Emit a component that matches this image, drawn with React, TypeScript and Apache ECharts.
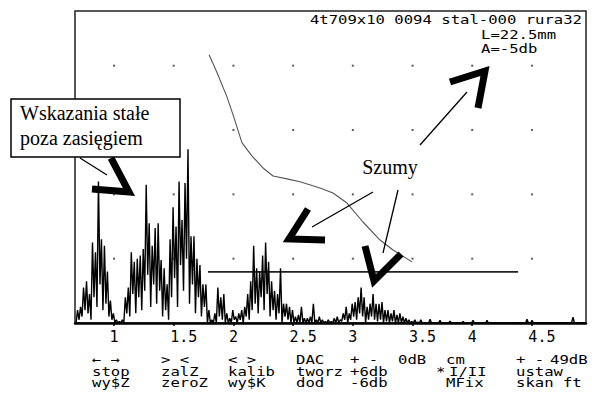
import React, { useEffect, useRef } from 'react';
import * as echarts from 'echarts';

// ---- data ----
const xTicks = [1, 1.5, 2, 2.5, 3, 3.5, 4, 4.5];
const dotLevels = [20, 40, 60, 80];

const traceStart = 0.682;
const traceStep = 0.025;
const peaks = [
  4, 5, 11, 13, 9, 25, 22, 44, 26, 24, 16, 7, 3, 1, 0.5, 1, 8, 11, 22, 19,
  20, 21, 23, 43, 31, 24, 29.5, 31, 19.6, 17, 12, 26, 36, 30, 44, 32, 43.5, 54, 27, 27,
  20, 18, 12, 12, 4, 1, 3, 11, 8, 9, 3, 1.5, 4, 2, 3, 4, 5, 9, 13, 24,
  17, 16, 21, 25, 19, 13, 10, 9, 17, 6, 6, 5, 4, 2, 2.5, 5, 1.5, 1.5, 2, 6,
  1, 2, 1, 0.5, 1, 0.5, 1.5, 2, 1, 3, 5, 3, 6, 6.5, 8, 11, 8, 5, 6, 9,
  6, 6, 6.5, 4, 4, 3, 4, 2.5, 3, 2, 1.5, 1, 0.5, 1, 0.3, 1,
];
const troughs = [
  0, 1, 2, 4, 3, 1, 8, 5, 12, 4, 6, 2, 1, 0, 0, 0, 0, 3, 2, 9,
  3, 8, 4, 10, 15, 5, 12, 6, 10, 2, 4, 1, 8, 14, 5, 18, 10, 20, 6, 12,
  3, 8, 2, 5, 0, 0, 0, 0, 2, 1, 0, 0, 0, 1, 0, 1, 0, 2, 1, 4,
  6, 3, 8, 4, 9, 2, 4, 1, 3, 0, 2, 1, 0, 0, 0, 0, 0, 0, 0, 0,
  0, 0, 0, 0, 0, 0, 0, 0, 0, 0.5, 1, 0, 1, 2, 1, 3, 2, 0, 1, 2,
  1, 0.5, 1, 0, 0.5, 0, 0.5, 0, 0, 0, 0, 0, 0, 0, 0, 0,
];
const tailX = [3.647, 3.73, 3.814, 3.923, 4.007, 4.124, 4.459, 4.501, 4.844];
const tailAmp = [1.2, 0.8, 0.6, 0.5, 0.8, 0.8, 1.2, 0.8, 1.8];

const dacX = [1.796, 1.863, 1.946, 1.997, 2.072, 2.156, 2.248, 2.332, 2.449, 2.558, 2.725, 2.834, 2.951, 3.085, 3.228, 3.337, 3.496];
const dacY = [83.4, 77.8, 70.3, 64.7, 56.0, 51.9, 48.2, 45.7, 44.8, 43.9, 42.0, 40.4, 37.3, 31.4, 25.8, 22.7, 19.0];

const gateX = [1.787, 4.384];
const gateLevel = 15.9;

const headerText = '4t709x10 0094 stal-000 rura32';
const infoLines = ['L=22.5mm', 'A=-5db'];
const menuRow1 = ['← →', '> <', '< >', 'DAC', '+ -', '0dB', 'cm', '+ -', '49dB'];
const menuRow2 = ['stop', 'zalZ', 'kalib', 'tworz', '+6db', '*', 'I/II', 'ustaw'];
const menuRow3 = ['wy$Z', 'zeroZ', 'wy$K', 'dod', '-6db', 'MFix', 'skan ft'];
const noteBox = ['Wskazania stałe', 'poza zasięgiem'];
const noteNoise = 'Szumy';

const X_MIN = 0.673;
const X_MAX = 4.953;

function buildTrace() {
  const pts: number[][] = [];
  for (let i = 0; i < peaks.length; i++) {
    const x = traceStart + i * traceStep;
    pts.push([x, troughs[i]]);
    pts.push([x + traceStep / 2, peaks[i]]);
  }
  pts.push([traceStart + peaks.length * traceStep, 0]);
  for (let i = 0; i < tailX.length; i++) {
    pts.push([tailX[i] - 0.012, 0]);
    pts.push([tailX[i], tailAmp[i]]);
    pts.push([tailX[i] + 0.012, 0]);
  }
  pts.push([X_MAX, 0]);
  return pts;
}

const MONO = '"DejaVu Sans Mono", monospace';
const SERIF = '"Liberation Serif", "Times New Roman", serif';

function monoText(text: string, x: number, y: number, align: string = 'left') {
  return {
    type: 'text',
    x,
    y,
    scaleX: 1.2,
    z: 50,
    style: {
      text,
      fontFamily: MONO,
      fontSize: 13,
      fill: '#000',
      textAlign: align,
      textVerticalAlign: 'middle',
    },
  };
}

function chevron(points: number[][]) {
  return {
    type: 'polyline',
    z: 60,
    shape: { points },
    style: { stroke: '#000', lineWidth: 7, fill: null, lineJoin: 'miter', lineCap: 'butt' },
  };
}

function leader(x1: number, y1: number, x2: number, y2: number) {
  return {
    type: 'line',
    z: 60,
    shape: { x1, y1, x2, y2 },
    style: { stroke: '#000', lineWidth: 1.3 },
  };
}

export default function App() {
  const ref = useRef<HTMLDivElement>(null);

  useEffect(() => {
    if (!ref.current) return;
    const chart = echarts.init(ref.current, null, { renderer: 'svg' });

    const dots: number[][] = [];
    xTicks.forEach((x) => dotLevels.forEach((y) => dots.push([x, y])));

    const row1X = [92, 161, 228, 296, 350, 398, 446, 516, 550];
    const row2X = [92, 161, 228, 296, 350, 436, 449, 516];
    const row3X = [92, 161, 228, 296, 350, 446, 516];

    const graphic: any[] = [
      monoText(headerText, 582, 19, 'right'),
      monoText(infoLines[0], 481, 34),
      monoText(infoLines[1], 481, 48),
      ...menuRow1.map((t, i) => monoText(t, row1X[i], 359)),
      ...menuRow2.map((t, i) => monoText(t, row2X[i], 371)),
      ...menuRow3.map((t, i) => monoText(t, row3X[i], 382)),
      {
        type: 'rect',
        z: 70,
        shape: { x: 11, y: 99, width: 169, height: 58 },
        style: { fill: '#fff', stroke: '#000', lineWidth: 1.5 },
      },
      {
        type: 'text',
        z: 71,
        x: 20,
        y: 113,
        style: { text: noteBox[0], fontFamily: SERIF, fontSize: 20, fill: '#000', textVerticalAlign: 'middle' },
      },
      {
        type: 'text',
        z: 71,
        x: 20,
        y: 138,
        style: { text: noteBox[1], fontFamily: SERIF, fontSize: 20, fill: '#000', textVerticalAlign: 'middle' },
      },
      leader(80, 158, 107, 175),
      chevron([[92, 189], [129, 192], [111, 158]]),
      {
        type: 'text',
        z: 71,
        x: 390,
        y: 167,
        style: { text: noteNoise, fontFamily: SERIF, fontSize: 20, fill: '#000', textAlign: 'center', textVerticalAlign: 'middle' },
      },
      leader(420, 145, 467, 92),
      chevron([[450, 82], [485, 71], [478, 108]]),
      leader(373, 192, 312, 227),
      chevron([[308, 209], [289, 239], [325, 240]]),
      leader(398, 190, 383, 253),
      chevron([[365, 246], [374, 281], [401, 254]]),
    ];

    chart.setOption({
      animation: false,
      backgroundColor: '#fff',
      grid: {
        left: 75,
        top: 11,
        right: 6,
        bottom: 73,
        show: true,
        borderColor: '#222',
        borderWidth: 1.5,
        outerBoundsMode: 'none',
      },
      xAxis: {
        type: 'value',
        min: X_MIN,
        max: X_MAX,
        axisLine: { show: true, onZero: false, lineStyle: { color: '#000', width: 2.5 } },
        axisTick: { show: true, customValues: xTicks, length: 3, lineStyle: { color: '#000', width: 1.5 } },
        axisLabel: {
          customValues: xTicks,
          margin: 6,
          color: '#000',
          fontFamily: MONO,
          fontSize: 15,
          formatter: (v: number) => (v % 1 === 0 ? String(v) : '{h|' + v + '}'),
          rich: {
            h: { padding: [0, 0, 0, 20], fontFamily: MONO, fontSize: 15, color: '#000' },
          },
        },
        splitLine: { show: false },
      },
      yAxis: { type: 'value', min: 0, max: 97, show: false, splitLine: { show: false } },
      series: [
        {
          type: 'scatter',
          data: dots,
          symbol: 'rect',
          symbolSize: 2,
          itemStyle: { color: '#333' },
          silent: true,
          z: 1,
        },
        {
          type: 'line',
          data: buildTrace(),
          showSymbol: false,
          symbol: 'none',
          lineStyle: { color: '#000', width: 1.4 },
          silent: true,
          z: 3,
        },
        {
          type: 'line',
          data: dacX.map((x, i) => [x, dacY[i]]),
          showSymbol: false,
          symbol: 'none',
          lineStyle: { color: '#555', width: 1.1 },
          silent: true,
          z: 2,
        },
        {
          type: 'line',
          data: gateX.map((x) => [x, gateLevel]),
          showSymbol: false,
          symbol: 'none',
          lineStyle: { color: '#222', width: 1.6 },
          silent: true,
          z: 2,
        },
      ],
      graphic,
    });

    return () => chart.dispose();
  }, []);

  return (
    <div
      ref={ref}
      style={{ position: 'fixed', left: 0, top: 0, width: 592, height: 396, background: '#fff' }}
    />
  );
}
